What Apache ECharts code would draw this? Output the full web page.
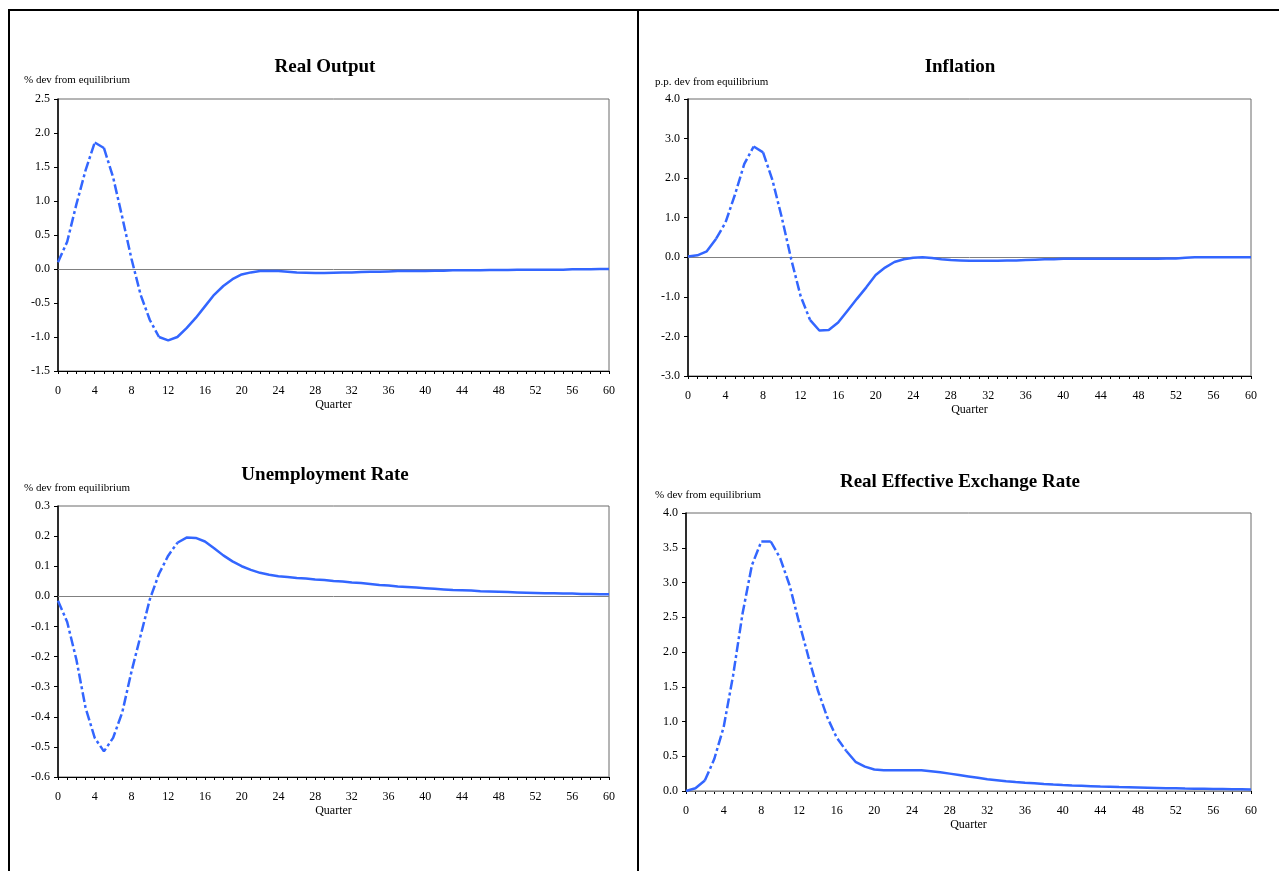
<!DOCTYPE html>
<html><head><meta charset="utf-8">
<script src="https://cdn.jsdelivr.net/npm/echarts@6/dist/echarts.min.js"></script>
<style>html,body{margin:0;padding:0;background:#fff}#c{width:1279px;height:871px}</style>
</head><body><div id="c"></div>
<script>
// ---------------- DATA ----------------
const quarters = [0,1,2,3,4,5,6,7,8,9,10,11,12,13,14,15,16,17,18,19,20,21,22,23,24,25,26,27,28,29,30,
  31,32,33,34,35,36,37,38,39,40,41,42,43,44,45,46,47,48,49,50,51,52,53,54,55,56,57,58,59,60];
const xTickLabels = [0,4,8,12,16,20,24,28,32,36,40,44,48,52,56,60];

const realOutput = [0.10,0.40,0.95,1.45,1.86,1.78,1.35,0.76,0.15,-0.38,-0.75,-1.00,-1.05,-1.00,-0.87,-0.72,
  -0.55,-0.38,-0.25,-0.15,-0.08,-0.05,-0.03,-0.03,-0.03,-0.04,-0.05,-0.055,-0.06,-0.06,-0.055,-0.05,-0.05,
  -0.045,-0.04,-0.04,-0.035,-0.03,-0.03,-0.03,-0.03,-0.025,-0.025,-0.02,-0.02,-0.02,-0.02,-0.015,-0.015,
  -0.015,-0.01,-0.01,-0.01,-0.01,-0.01,-0.01,-0.005,-0.005,-0.005,0.0,0.0];

const inflation = [0.02,0.05,0.15,0.47,0.88,1.58,2.36,2.80,2.65,1.95,1.00,-0.05,-0.98,-1.58,-1.85,-1.84,
  -1.65,-1.35,-1.05,-0.76,-0.45,-0.26,-0.12,-0.05,-0.01,0.0,-0.02,-0.05,-0.07,-0.08,-0.09,-0.09,-0.09,
  -0.09,-0.08,-0.08,-0.07,-0.06,-0.05,-0.05,-0.04,-0.04,-0.04,-0.04,-0.04,-0.04,-0.04,-0.04,-0.04,-0.04,
  -0.04,-0.03,-0.03,-0.01,0.0,0.0,0.0,0.0,0.0,0.0,0.0];

const unemployment = [-0.015,-0.085,-0.21,-0.37,-0.47,-0.515,-0.47,-0.385,-0.25,-0.13,-0.01,0.075,0.135,
  0.178,0.195,0.194,0.182,0.16,0.136,0.116,0.10,0.088,0.078,0.072,0.067,0.064,0.061,0.059,0.056,0.054,
  0.051,0.049,0.046,0.044,0.041,0.038,0.036,0.033,0.031,0.029,0.027,0.025,0.023,0.021,0.020,0.019,0.017,
  0.016,0.015,0.014,0.013,0.012,0.011,0.010,0.010,0.009,0.009,0.008,0.008,0.007,0.007];

const reer = [0.0,0.04,0.15,0.46,0.92,1.66,2.55,3.25,3.59,3.59,3.35,2.96,2.43,1.93,1.45,1.06,0.77,0.58,
  0.42,0.35,0.31,0.30,0.30,0.30,0.30,0.30,0.285,0.27,0.25,0.23,0.21,0.19,0.17,0.155,0.14,0.128,0.118,
  0.11,0.10,0.092,0.085,0.079,0.074,0.069,0.064,0.06,0.056,0.053,0.05,0.047,0.044,0.041,0.039,0.036,
  0.034,0.032,0.03,0.028,0.026,0.024,0.022];

const titles = ['Real Output','Inflation','Unemployment Rate','Real Effective Exchange Rate'];
const unitLabels = ['% dev from equilibrium','p.p. dev from equilibrium','% dev from equilibrium','% dev from equilibrium'];
const xAxisName = 'Quarter';
const yRanges = [[-1.5,2.5,0.5],[-3,4,1],[-0.6,0.3,0.1],[0,4,0.5]];
const seriesData = [realOutput, inflation, unemployment, reer];

// ---------------- LAYOUT ----------------
const FONT = 'Liberation Serif';
const grids = [
  {left:58, top:99, width:551, height:272},
  {left:688, top:99, width:563, height:277},
  {left:58, top:506, width:551, height:271},
  {left:686, top:513, width:565, height:278}
];
const titlePos = [[325,67],[960,67],[325,475],[960,482]];
const unitPos = [[24,80],[655,82],[24,488],[655,495]];
const BLUE = '#3366ff';

const option = {
  animation:false,
  grid: grids.map(g => Object.assign({show:true, borderColor:'#6a6a6a', borderWidth:1}, g)),
  xAxis: grids.map((g,i) => ({
    gridIndex:i, type:'value', min:0, max:60, interval:4,
    axisLine:{show:true, onZero:false, lineStyle:{color:'#000', width:1}},
    axisTick:{show:true, length:3, lineStyle:{color:'#000'}},
    minorTick:{show:true, splitNumber:4, length:3, lineStyle:{color:'#000'}},
    axisLabel:{margin:14, color:'#000', fontFamily:FONT, fontSize:12,
      formatter: v => xTickLabels.indexOf(v) >= 0 ? String(v) : ''},
    splitLine:{show:false}, minorSplitLine:{show:false},
    name:xAxisName, nameLocation:'middle', nameGap:28,
    nameTextStyle:{color:'#000', fontFamily:FONT, fontSize:12}
  })),
  yAxis: grids.map((g,i) => ({
    gridIndex:i, type:'value', min:yRanges[i][0], max:yRanges[i][1], interval:yRanges[i][2],
    axisLine:{show:true, onZero:false, lineStyle:{color:'#000', width:1.5}},
    axisTick:{show:true, length:4, lineStyle:{color:'#000'}},
    axisLabel:{margin:8, color:'#000', fontFamily:FONT, fontSize:12, formatter: v => v.toFixed(1)},
    splitLine:{show:false}
  })),
  series: [],
  graphic: []
};

// split each curve into runs of steep (drawn dashed) and gentle (solid) segments
seriesData.forEach((d, p) => {
  const g = grids[p];
  const pxU = g.height / (yRanges[p][1] - yRanges[p][0]);
  const pxQ = g.width / 60;
  const steep = [];
  for (let i = 0; i < quarters.length - 1; i++) {
    steep.push(Math.abs(d[i+1] - d[i]) * pxU / pxQ > 1.4);
  }
  let start = 0;
  let first = true;
  for (let i = 1; i <= steep.length; i++) {
    if (i === steep.length || steep[i] !== steep[start]) {
      const pts = quarters.slice(start, i + 1).map(q => [q, d[q]]);
      const s = {
        type:'line', xAxisIndex:p, yAxisIndex:p, data:pts, showSymbol:false, symbol:'none',
        lineStyle:{color:BLUE, width:2.5, type: steep[start] ? [10,3,3,3] : 'solid'},
        z:3
      };
      if (first) {
        s.markLine = {silent:true, symbol:'none', label:{show:false}, animation:false,
          lineStyle:{color:'#808080', width:1, type:'solid'}, data:[{yAxis:0}], z:1};
        first = false;
      }
      option.series.push(s);
      start = i;
    }
  }
});

titles.forEach((t, i) => {
  option.graphic.push({type:'text', x:titlePos[i][0], y:titlePos[i][1],
    style:{text:t, fill:'#000', font:'bold 19px "Liberation Serif"', textAlign:'center', textVerticalAlign:'middle'}});
  option.graphic.push({type:'text', x:unitPos[i][0], y:unitPos[i][1],
    style:{text:unitLabels[i], fill:'#000', font:'11px "Liberation Serif"', textAlign:'left', textVerticalAlign:'middle'}});
});
// page frame
const frame = [[8,10,1279,10],[9,10,9,871],[638,10,638,871]];
frame.forEach(f => option.graphic.push({type:'line', shape:{x1:f[0],y1:f[1],x2:f[2],y2:f[3]},
  style:{stroke:'#000', lineWidth:2}}));

const chart = echarts.init(document.getElementById('c'), null, {renderer:'canvas'});
chart.setOption(option);
</script></body></html>
